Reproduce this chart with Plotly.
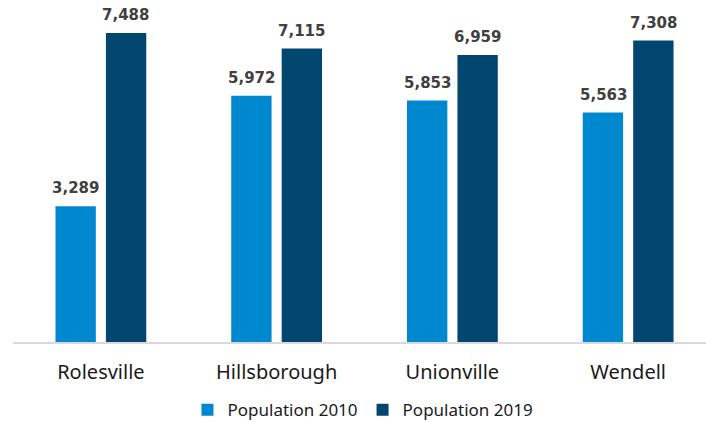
import plotly.graph_objects as go

# town populations
towns = ["Rolesville", "Hillsborough", "Unionville", "Wendell"]
pop_2010 = [3289, 5972, 5853, 5563]
pop_2019 = [7488, 7115, 6959, 7308]

light_blue = "#0088CF"
dark_blue = "#00466E"

fig = go.Figure()
fig.add_trace(go.Bar(x=towns, y=pop_2010, name="Population 2010",
                     marker_color=light_blue, marker_line_width=0))
fig.add_trace(go.Bar(x=towns, y=pop_2019, name="Population 2019",
                     marker_color=dark_blue, marker_line_width=0))

# value labels above the bars
for i, series in enumerate([pop_2010, pop_2019]):
    for j, v in enumerate(series):
        fig.add_annotation(x=towns[j], y=v, text=f"{v:,}", showarrow=False,
                           xshift=-25 if i == 0 else 25, yshift=7, yanchor="bottom",
                           font=dict(family="DejaVu Sans", size=15, color="#404040",
                                     weight="bold"))

fig.update_layout(
    width=706, height=422,
    margin=dict(l=13, r=0, t=12, b=80),
    barmode="group", bargap=0.426, bargroupgap=0.2,
    paper_bgcolor="white", plot_bgcolor="white",
    font=dict(family="Noto Sans", color="#1a1a1a"),
    showlegend=True,
    legend=dict(orientation="h", x=0.505, xanchor="center",
                yref="container", y=0.028, yanchor="middle",
                font=dict(family="Noto Sans", size=17, color="#1a1a1a"), itemwidth=30),
)
fig.update_xaxes(range=[-0.5, 3.443], showline=True, linecolor="#d9d9d9", linewidth=2,
                 tickfont=dict(size=20), ticks="", ticklabelstandoff=11, automargin=False)
fig.update_yaxes(range=[0, 8000], showgrid=False, showticklabels=False, zeroline=False,
                 automargin=False)

# page body has a default 8px margin; drop it so the figure sits at the corner
fig.write_html("out.html", config={"displayModeBar": False},
               post_script="document.body.style.margin='0';")
